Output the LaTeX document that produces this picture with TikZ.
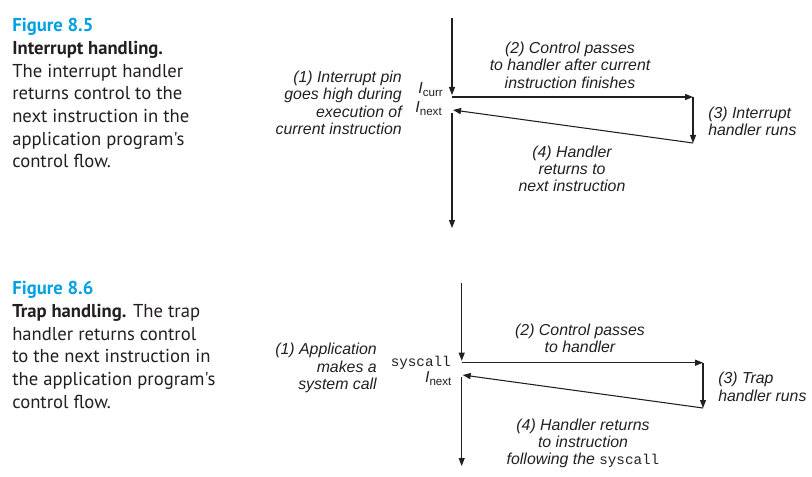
\documentclass[tikz,border=0pt]{standalone}
\usepackage{fontspec}
\setmainfont{Liberation Sans}
\newfontfamily\capfont{PT Sans}
\newfontfamily\codefont{Liberation Mono}
\usetikzlibrary{arrows.meta}
\definecolor{figblue}{RGB}{0,160,227}
\definecolor{ink}{RGB}{35,31,32}
\newcommand{\insn}[1]{\textit{I}\raisebox{-2pt}{\fontsize{8.7}{9}\selectfont #1}}
\newcommand{\sysc}{{\upshape\codefont\fontsize{10.7}{12}\selectfont syscall}}
\tikzset{
  flow/.style={draw=ink, line width=0.8pt, -{Triangle[length=6pt,width=4.5pt]}},
  note/.style={font=\fontsize{11.9}{13}\selectfont\itshape, inner sep=0pt, text=ink},
  tag/.style={font=\fontsize{11.9}{13}\selectfont, inner sep=0pt, text=ink, anchor=base east},
  caption/.style={font=\capfont\fontsize{14}{17}\selectfont, align=left, inner sep=0pt, anchor=base west, text=ink},
}
\begin{document}
\begin{tikzpicture}[x=0.75pt,y=-0.75pt]
\useasboundingbox (0,0) rectangle (812,477);

\node[caption] (cap5) at (12,168) {\textcolor{figblue}{\bfseries Figure 8.5}\\
  {\bfseries Interrupt handling.}\\
  The interrupt handler\\
  returns control to the\\
  next instruction in the\\
  application program's\\
  control flow.};

\coordinate (t5) at (452,18);
\coordinate (c5) at (452,95);
\coordinate (h5) at (452,97);
\coordinate (r5) at (693,97);
\coordinate (d5) at (693,143);
\coordinate (n5) at (453,110);
\coordinate (s5) at (452,113);
\coordinate (e5) at (452,228);
\draw[flow] (t5) -- (c5);
\draw[flow] (h5) -- (r5);
\draw[flow] (r5) -- (d5);
\draw[flow] (d5) -- (n5);
\draw[flow] (s5) -- (e5);

\node[note, align=right, anchor=east] (pin) at (402,102.7) {(1) Interrupt pin\\goes high during\\execution of\\current instruction};
\node[tag] (curr) at (443,94) {\insn{curr}};
\node[tag] (next5) at (442,112.7) {\insn{next}};
\node[note, align=center] (pass5) at (570,65) {(2) Control passes\\to handler after current\\instruction finishes};
\node[note, align=left, anchor=west] (run5) at (708,121.3) {(3) Interrupt\\handler runs};
\node[note, align=center] (back5) at (572,168.8) {(4) Handler\\returns to\\next instruction};

\node[caption] (cap6) at (12,408.3) {\textcolor{figblue}{\bfseries Figure 8.6}\\
  {\bfseries Trap handling.} The trap\\
  handler returns control\\
  to the next instruction in\\
  the application program's\\
  control flow.};

\coordinate (t6) at (461.7,283);
\coordinate (c6) at (461.7,360.7);
\coordinate (h6) at (461.7,362.7);
\coordinate (r6) at (703,362.7);
\coordinate (d6) at (703,408);
\coordinate (n6) at (462.7,375);
\coordinate (s6) at (461.7,377);
\coordinate (e6) at (461.7,466);
\draw[flow] (t6) -- (c6);
\draw[flow] (h6) -- (r6);
\draw[flow] (r6) -- (d6);
\draw[flow] (d6) -- (n6);
\draw[flow] (s6) -- (e6);

\node[note, align=right, anchor=east] (app) at (377,368) {(1) Application\\makes a\\system call};
\node[tag] (call) at (451,366) {\sysc};
\node[tag] (next6) at (451.7,382.7) {\insn{next}};
\node[note, align=center] (pass6) at (580,338.3) {(2) Control passes\\to handler};
\node[note, align=left, anchor=west] (run6) at (718,386.7) {(3) Trap\\handler runs};
\node[note, align=center] (back6) at (583,443.3) {(4) Handler returns\\to instruction\\following the \sysc};
\end{tikzpicture}
\end{document}
